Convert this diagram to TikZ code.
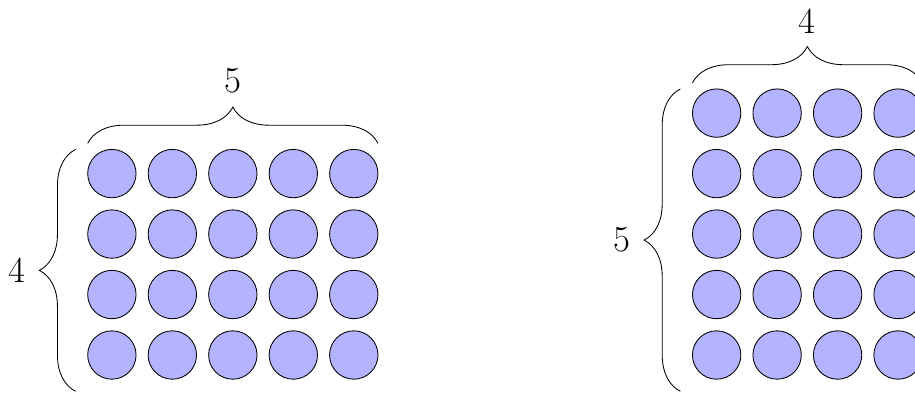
\documentclass[tikz,border=0pt]{standalone}
\usepackage{xcolor}
\usepackage{tikz}
\usetikzlibrary{decorations.pathreplacing}
\definecolor{dotblue}{HTML}{B3B3FF}
\tikzset{
  dotnode/.style={circle,draw=black,fill=dotblue,minimum size=8mm,inner sep=0pt},
  bracedeco/.style={decorate,decoration={brace,amplitude=6mm}},
  countlbl/.style={font=\LARGE},
}

\begin{document}
\begin{tikzpicture}
  \clip (-1.85,-3.64) rectangle (13.28,2.87);
  % 4 rows of 5
  \foreach \i in {0,...,4}
    \foreach \j in {0,...,3}
      \node[dotnode] (a\i\j) at (\i,-\j) {};
  % 5 rows of 4
  \foreach \i in {0,...,3}
    \foreach \j in {0,...,4}
      \node[dotnode] (b\i\j) at (10+\i,1-\j) {};
  \coordinate (aTL) at (-0.4,0.5);
  \coordinate (aTR) at (4.4,0.5);
  \coordinate (aLB) at (-0.6,-3.6);
  \coordinate (aLT) at (-0.6,0.4);
  \coordinate (bTL) at (9.6,1.5);
  \coordinate (bTR) at (13.4,1.5);
  \coordinate (bLB) at (9.4,-3.6);
  \coordinate (bLT) at (9.4,1.4);
  \draw[bracedeco] (aTL) -- (aTR) node[countlbl,midway,above=7mm] (aCols) {5};
  \draw[bracedeco] (aLB) -- (aLT) node[countlbl,midway,left=7mm] (aRows) {4};
  \draw[bracedeco] (bTL) -- (bTR) node[countlbl,midway,above=7mm] (bCols) {4};
  \draw[bracedeco] (bLB) -- (bLT) node[countlbl,midway,left=7mm] (bRows) {5};
\end{tikzpicture}
\end{document}
